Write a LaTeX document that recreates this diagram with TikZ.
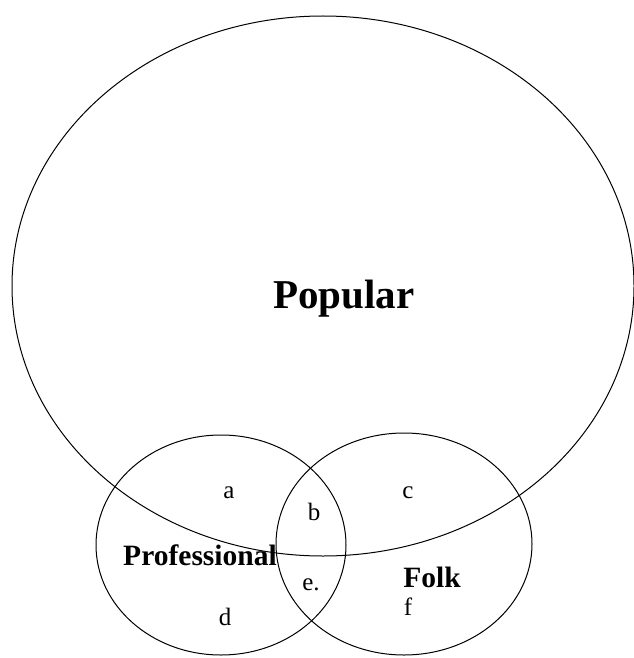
\documentclass[tikz,border=0pt]{standalone}
\usepackage{fontspec}
\setmainfont{Liberation Serif}
\usepackage{tikz}
\usetikzlibrary{shapes.geometric}
\tikzset{
  setoval/.style={
    draw,
    ellipse,
    line width=1pt,
    inner sep=0pt
  },
  title/.style={
    font=\fontsize{29.5}{30}\selectfont\bfseries,
    anchor=base,
    inner sep=0pt
  },
  region/.style={
    font=\fontsize{25}{25}\selectfont,
    anchor=base,
    inner sep=0pt
  }
}
\begin{document}
\begin{tikzpicture}[x=1pt,y=-1pt]
  \useasboundingbox (0,0) rectangle (633,658);

  \node[setoval, minimum width=622pt, minimum height=540pt] (popular) at (323,286) {};
  \node[setoval, minimum width=250pt, minimum height=220pt] (prof) at (221,545) {};
  \node[setoval, minimum width=256pt, minimum height=222pt] (folk) at (404,544) {};

  \node[title, font=\fontsize{41}{41}\selectfont\bfseries] (poplabel) at (344,308) {Popular};
  \node[title] (proflabel) at (200,565) {Professional};
  \node[title] (folklabel) at (432,587) {Folk};

  \node[region] (a) at (229,498) {a};
  \node[region] (b) at (314,520) {b};
  \node[region] (c) at (408,498) {c};
  \node[region] (e) at (311,590) {e.};
  \node[region] (d) at (225,625) {d};
  \node[region] (f) at (408,615) {f};
\end{tikzpicture}
\end{document}
